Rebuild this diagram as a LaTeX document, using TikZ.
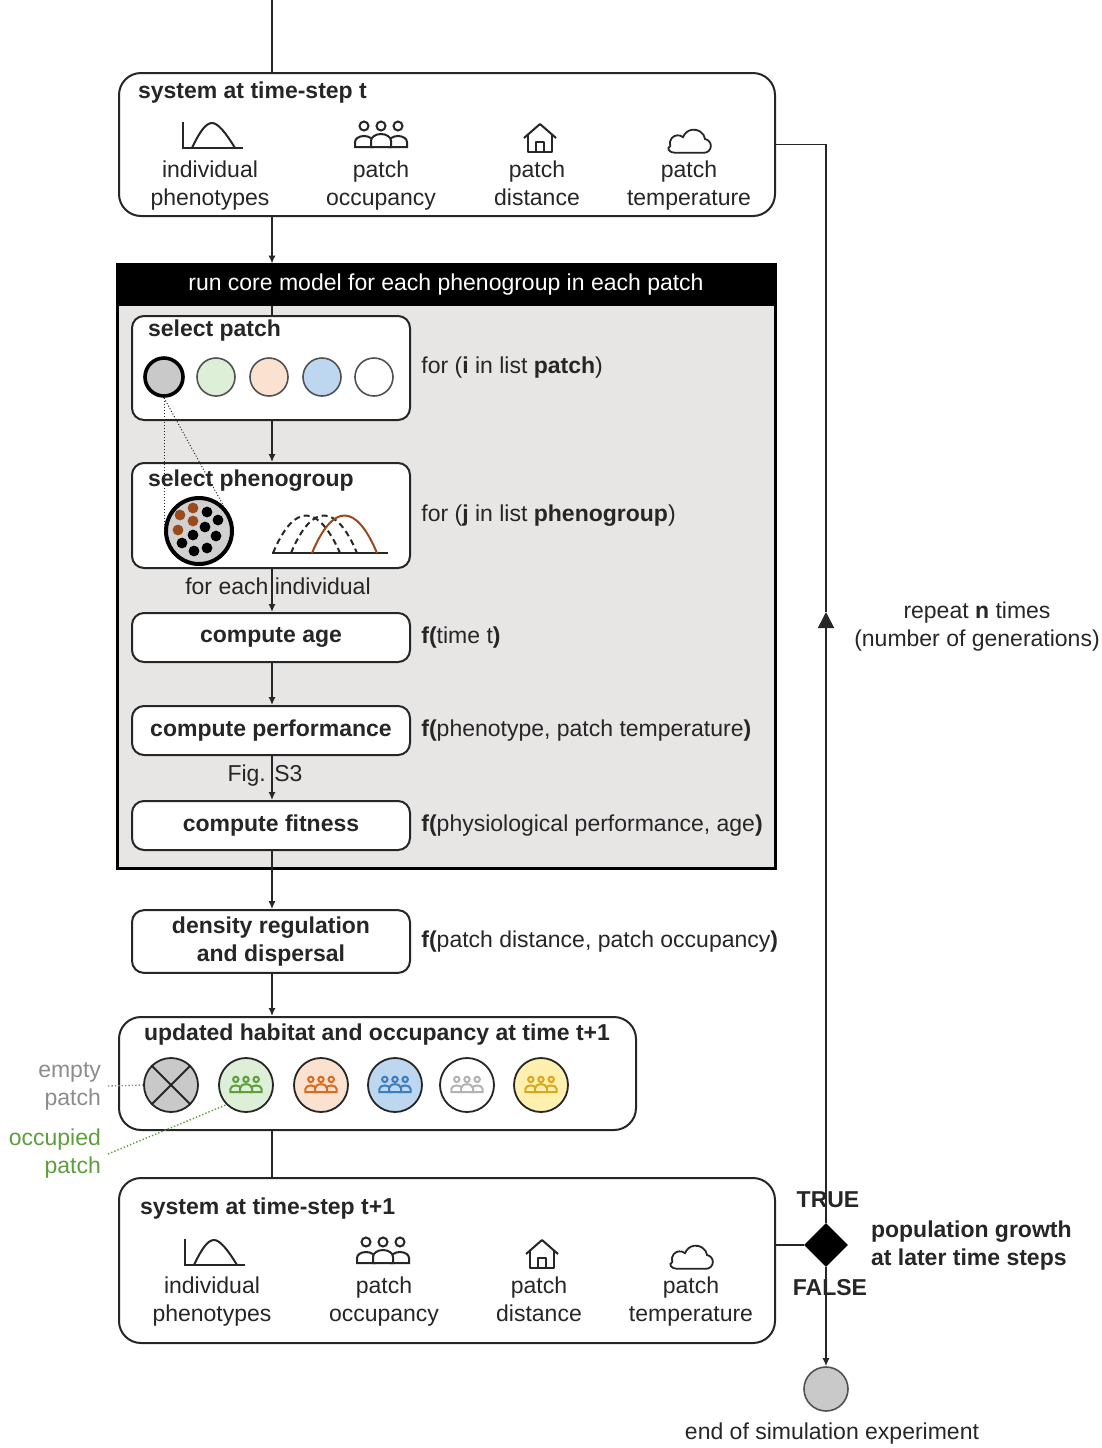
\documentclass[tikz,border=0pt]{standalone}
\usepackage{fontspec}
\setmainfont{Liberation Sans}
\usetikzlibrary{shapes.geometric, arrows.meta, positioning}

\definecolor{ink}{HTML}{262626}
\definecolor{coregray}{HTML}{E8E5E5}
\definecolor{patchgray}{HTML}{C9C9C9}
\definecolor{patchgreen}{HTML}{DDEFD7}
\definecolor{patchpeach}{HTML}{FBE2D0}
\definecolor{patchblue}{HTML}{BDD7F0}
\definecolor{patchyellow}{HTML}{FFF0B0}
\definecolor{crowdgreen}{HTML}{5E9E3C}
\definecolor{crowdorange}{HTML}{D96B1F}
\definecolor{crowdblue}{HTML}{3D7DBD}
\definecolor{crowdgray}{HTML}{B3B3B3}
\definecolor{crowdgold}{HTML}{D9A81C}
\definecolor{brownind}{HTML}{9A4A1C}
\definecolor{labelgray}{HTML}{8C8C8C}

\tikzset{
  txt/.style={font=\fontsize{11.5}{14}\selectfont, text=ink},
  bold/.style={font=\fontsize{11.5}{14}\selectfont\bfseries, text=ink},
  panel/.style={draw=ink, line width=1pt, rounded corners=11pt, fill=white, minimum width=328pt},
  stepbox/.style={draw=ink, line width=1pt, rounded corners=6pt, fill=white, minimum width=139pt, bold, align=center},
  patch/.style={circle, draw=ink!80, line width=0.8pt, minimum size=19pt, inner sep=0pt},
  habitat/.style={circle, draw=ink, line width=0.9pt, minimum size=27pt, inner sep=0pt},
  flow/.style={draw=ink, line width=0.8pt, -{Latex[length=4pt,width=3.6pt]}},
  link/.style={draw=ink, line width=0.8pt},
  note/.style={txt, anchor=west, inner sep=2pt},
  iconlabel/.style={txt, align=center, anchor=north},
  % small icons, drawn in their own y-up frame
  pics/bellicon/.style={code={
    \begin{scope}[x=0.5pt, y=0.5pt, line width=1pt]
      \draw (-29,13) -- (-29,-13) -- (31,-13);
      \draw (-20,-13) .. controls (-12,4) and (-6,12) .. (0,12) .. controls (6,12) and (14,2) .. (23,-13);
    \end{scope}}},
  pics/crowd/.style={code={
    \begin{scope}[x=0.5pt, y=0.5pt, line width=1pt]
      \draw (-17,11) circle[radius=4.5] (0,11) circle[radius=4.5] (17,11) circle[radius=4.5];
      \filldraw[fill=#1] (-26,-10) -- (-26,-5) arc[start angle=180, end angle=0, x radius=9, y radius=6] -- (-8,-10) -- cycle;
      \filldraw[fill=#1] (8,-10) -- (8,-5) arc[start angle=180, end angle=0, x radius=9, y radius=6] -- (26,-10) -- cycle;
      \filldraw[fill=#1] (-10,-10) -- (-10,-4) arc[start angle=180, end angle=0, x radius=10, y radius=7] -- (10,-10) -- cycle;
    \end{scope}}},
  pics/house/.style={code={
    \begin{scope}[x=0.5pt, y=0.5pt, line width=1pt, line join=round]
      \draw (-16,0) -- (0,14) -- (16,0);
      \draw (-12,3) -- (-12,-14) -- (12,-14) -- (12,3);
      \draw (-4,-14) -- (-4,-4) -- (4,-4) -- (4,-14);
    \end{scope}}},
  pics/cloud/.style={code={
    \begin{scope}[x=0.5pt, y=0.5pt, scale=1.15, line width=0.9pt]
      \draw (-12,-12) -- (13,-12) arc[start angle=-90, end angle=80, radius=6]
        arc[start angle=10, end angle=160, radius=10]
        arc[start angle=50, end angle=200, radius=7]
        .. controls (-20,-8) and (-17,-12) .. (-12,-12);
    \end{scope}}},
}

\begin{document}
\begin{tikzpicture}[x=0.5pt, y=-0.5pt, color=ink]
  \useasboundingbox (0,0) rectangle (1102,1448);

  % system at time-step t
  \coordinate (entry) at (272,0);
  \node[panel, minimum height=71.5pt] (sysT) at (447,144.5) {};
  \node[bold, anchor=west] (sysTtitle) at (131,93) {system at time-step t};
  \pic at (212,135) {bellicon};
  \pic at (381,137) {crowd=white};
  \pic at (540,138) {house};
  \pic at (689,139) {cloud};
  \node[iconlabel] (phen) at (210,154) {individual\\phenotypes};
  \node[iconlabel] (occ) at (381,154) {patch\\occupancy};
  \node[iconlabel] (dist) at (537,154) {patch\\distance};
  \node[iconlabel] (temp) at (689,154) {patch\\temperature};

  % core model frame
  \node[draw=black, line width=1.5pt, fill=coregray, minimum width=329pt, minimum height=302pt] (core) at (446,566) {};
  \node[fill=black, minimum width=329pt, minimum height=21pt, txt, text=white] (head) at (446,285) {run core model for each phenogroup in each patch};

  % select patch
  \node[stepbox, minimum height=52pt] (selpatch) at (271,368) {};
  \node[bold, anchor=west] (selpatchtitle) at (141,331) {select patch};
  \node[patch, draw=black, line width=1.8pt, fill=patchgray] (p1) at (164,377) {};
  \node[patch, fill=patchgreen] (p2) at (216,377) {};
  \node[patch, fill=patchpeach] (p3) at (269,377) {};
  \node[patch, fill=patchblue] (p4) at (322,377) {};
  \node[patch, fill=white] (p5) at (374,377) {};
  \node[note, right=3pt of selpatch] (fori) {for (\textbf{i} in list \textbf{patch})};

  % select phenogroup
  \node[stepbox, minimum height=52.5pt] (selpheno) at (271,515.5) {};
  \node[bold, anchor=west] (selphenotitle) at (141,481) {select phenogroup};
  \node[circle, draw=black, line width=2pt, fill=patchgray!85, minimum size=33pt, inner sep=0pt] (grp) at (199,531) {};
  \fill[brownind] (193,508) circle[radius=5.4];
  \fill[brownind] (180,515) circle[radius=5.4];
  \fill[brownind] (193,521) circle[radius=5.4];
  \fill[brownind] (178,530) circle[radius=5.4];
  \fill[black] (207,512) circle[radius=5.4];
  \fill[black] (218,520) circle[radius=5.4];
  \fill[black] (205,527) circle[radius=5.4];
  \fill[black] (193,535) circle[radius=5.4];
  \fill[black] (216,536) circle[radius=5.4];
  \fill[black] (182,543) circle[radius=5.4];
  \fill[black] (194,551) circle[radius=5.4];
  \fill[black] (207,548) circle[radius=5.4];
  \draw[line width=1pt] (272,553) -- (388,553);
  \draw[line width=1pt, dash pattern=on 3pt off 2pt] (273,553) .. controls (294,503) and (318,503) .. (340,553);
  \draw[line width=1pt, dash pattern=on 3pt off 2pt] (291,553) .. controls (312,503) and (336,503) .. (357,553);
  \draw[line width=1pt, brownind] (312,553) .. controls (333,503) and (356,503) .. (377,553);
  \draw[densely dotted, line width=0.5pt] (p1.south) -- (grp.west);
  \draw[densely dotted, line width=0.5pt] (p1.south) -- (grp.north east);
  \node[note, right=3pt of selpheno] (forj) {for (\textbf{j} in list \textbf{phenogroup})};

  % per individual steps
  \node[stepbox, minimum height=24.5pt] (age) at (271,637.5) {compute age};
  \node[stepbox, minimum height=24.5pt] (perf) at (271,730.5) {compute performance};
  \node[stepbox, minimum height=24.5pt] (fit) at (271,825.5) {compute fitness};
  \node[note, right=3pt of age] (fage) {\textbf{f(}time t\textbf{)}};
  \node[note, right=3pt of perf] (fperf) {\textbf{f(}phenotype, patch temperature\textbf{)}};
  \node[note, right=3pt of fit] (ffit) {\textbf{f(}physiological performance, age\textbf{)}};

  % density regulation
  \node[stepbox, minimum height=29.5pt] (dens) at (271,941.5) {density regulation\\and dispersal};
  \node[note, right=3pt of dens] (fdens) {\textbf{f(}patch distance, patch occupancy\textbf{)}};

  % updated habitat
  \node[panel, minimum width=258.5pt, minimum height=56.5pt] (upd) at (377.5,1073.5) {};
  \node[bold, anchor=west] (updtitle) at (137,1035) {updated habitat and occupancy at time t+1};
  \node[habitat, fill=patchgray] (e1) at (171,1085) {};
  \draw[line width=0.9pt] (e1.north west) -- (e1.south east) (e1.north east) -- (e1.south west);
  \node[habitat, fill=patchgreen] (e2) at (246,1085) {};
  \node[habitat, fill=patchpeach] (e3) at (321,1085) {};
  \node[habitat, fill=patchblue] (e4) at (395,1085) {};
  \node[habitat, fill=white] (e5) at (467,1085) {};
  \node[habitat, fill=patchyellow] (e6) at (541,1085) {};
  \pic[color=crowdgreen, scale=0.6] at (246,1086) {crowd=patchgreen};
  \pic[color=crowdorange, scale=0.6] at (321,1086) {crowd=patchpeach};
  \pic[color=crowdblue, scale=0.6] at (395,1086) {crowd=patchblue};
  \pic[color=crowdgray, scale=0.6] at (467,1086) {crowd=white};
  \pic[color=crowdgold, scale=0.6] at (541,1086) {crowd=patchyellow};
  \node[txt, text=labelgray, align=right, anchor=east] (emptylab) at (108,1086) {empty\\patch};
  \node[txt, text=crowdgreen, align=right, anchor=east] (occlab) at (108,1154) {occupied\\patch};
  \draw[labelgray, densely dotted, line width=0.7pt] (emptylab.east) -- (e1.west);
  \draw[crowdgreen, densely dotted, line width=0.7pt] (occlab.east) -- (e2.south west);

  % system at time-step t+1
  \node[panel, minimum height=82.5pt] (sysT1) at (447,1260.5) {};
  \node[bold, anchor=west] (sysT1title) at (133,1209) {system at time-step t+1};
  \pic at (214,1252) {bellicon};
  \pic at (383,1253) {crowd=white};
  \pic at (542,1254) {house};
  \pic at (691,1255) {cloud};
  \node[iconlabel] (phen1) at (212,1270) {individual\\phenotypes};
  \node[iconlabel] (occ1) at (384,1270) {patch\\occupancy};
  \node[iconlabel] (dist1) at (539,1270) {patch\\distance};
  \node[iconlabel] (temp1) at (691,1270) {patch\\temperature};

  % decision and end
  \node[diamond, fill=black, minimum size=22pt, inner sep=0pt] (dec) at (826,1245) {};
  \node[circle, draw=ink!80, fill=patchgray, line width=0.8pt, minimum size=22pt, inner sep=0pt] (endsim) at (826,1389) {};
  \coordinate (loopmark) at (826,612);

  % connectors
  \draw[link] (entry) -- (entry |- sysT.north);
  \draw[flow] (sysT.south -| entry) -- (head.north -| entry);
  \draw[link] (head.south -| entry) -- (selpatch.north -| entry);
  \draw[flow] (selpatch.south -| entry) -- (selpheno.north -| entry);
  \draw[flow] (selpheno.south -| entry) -- (age.north -| entry);
  \draw[flow] (age.south -| entry) -- (perf.north -| entry);
  \draw[flow] (perf.south -| entry) -- (fit.north -| entry);
  \draw[flow] (fit.south -| entry) -- (dens.north -| entry);
  \draw[flow] (dens.south -| entry) -- (upd.north -| entry);
  \draw[link] (upd.south -| entry) -- (sysT1.north -| entry);
  \draw[link] (dec.west -| sysT1.east) -- (dec.west);
  \draw[link, -{Triangle[length=8pt,width=8pt]}] (dec.north) -- (loopmark);
  \draw[link] (loopmark) |- (sysT.east);
  \draw[flow] (dec.south) -- (endsim.north);

  % labels on connectors
  \node[txt] (eachind) at (278,586) {for each individual};
  \node[txt] (figref) at (265,776) {Fig. S3};
  \node[bold] (truelab) at (828,1200) {TRUE};
  \node[bold] (falselab) at (830,1288) {FALSE};
  \node[bold, anchor=west, align=left] (growth) at (864,1246) {population growth\\at later time steps};
  \node[txt, align=center] (repeat) at (977,627) {repeat \textbf{n} times\\(number of generations)};
  \node[txt] (endlab) at (832,1434) {end of simulation experiment};
\end{tikzpicture}
\end{document}
